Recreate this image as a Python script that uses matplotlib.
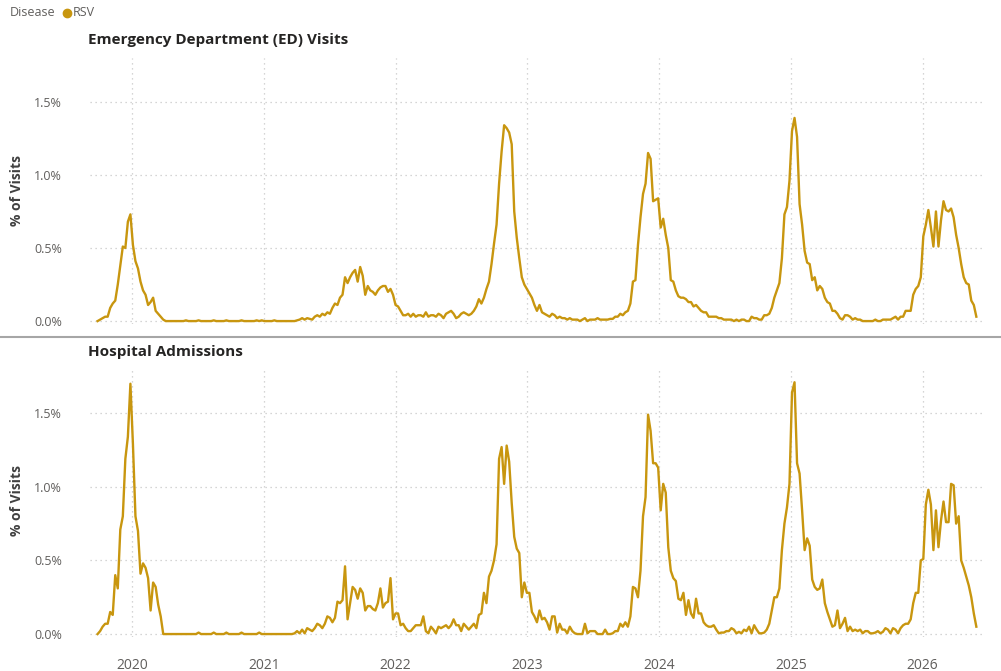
import numpy as np
import pandas as pd
import matplotlib
matplotlib.use("Agg")
import matplotlib.pyplot as plt
from matplotlib.lines import Line2D
from matplotlib.ticker import FuncFormatter

plt.rcParams['font.family'] = ['Open Sans', 'DejaVu Sans']

# weekly series, first week of the data
start_week = "2019-09-28"
series_name = "RSV"
legend_title = "Disease"
panel_titles = ["Emergency Department (ED) Visits", "Hospital Admissions"]
y_label = "% of Visits"
y_ticks = [0.0, 0.5, 1.0, 1.5]
year_ticks = [2020, 2021, 2022, 2023, 2024, 2025, 2026]

# ED visits, % of visits
ed_2019_20 = [0.00, 0.01, 0.02, 0.03, 0.03, 0.09, 0.12, 0.14, 0.25, 0.38,
              0.51, 0.50, 0.68, 0.73, 0.52, 0.41, 0.36, 0.27, 0.21, 0.18,
              0.11, 0.13, 0.16, 0.07, 0.05, 0.03, 0.01, 0.00]
ed_2020_off = [0, 0, 0, 0, 0, 0, 0, 0.005, 0, 0,
               0, 0, 0.005, 0, 0, 0, 0, 0, 0.005, 0,
               0, 0, 0, 0.005, 0, 0, 0, 0, 0, 0.005,
               0, 0, 0, 0, 0, 0.005, 0, 0.005, 0, 0,
               0, 0, 0.005, 0, 0, 0, 0, 0, 0, 0,
               0, 0.005]
ed_2021_22 = [0.01, 0.02, 0.01, 0.02, 0.015, 0.01, 0.03, 0.04, 0.03, 0.05,
              0.04, 0.06, 0.05, 0.09, 0.12, 0.11, 0.16, 0.18, 0.30, 0.26,
              0.30, 0.33, 0.35, 0.27, 0.37, 0.31, 0.18, 0.24, 0.21, 0.20,
              0.18, 0.21, 0.23, 0.24, 0.24, 0.20, 0.22, 0.18, 0.11, 0.10,
              0.07, 0.04, 0.04, 0.05, 0.03, 0.05, 0.03, 0.04, 0.04, 0.03,
              0.06, 0.03, 0.04, 0.04, 0.03, 0.05, 0.04, 0.02, 0.05]
ed_2022_23 = [0.06, 0.07, 0.05, 0.02, 0.03, 0.05, 0.06, 0.05, 0.04, 0.05,
              0.07, 0.10, 0.15, 0.12, 0.16, 0.22, 0.27, 0.39, 0.53, 0.66,
              0.94, 1.16, 1.34, 1.32, 1.29, 1.21, 0.75, 0.57, 0.43, 0.30,
              0.25, 0.22, 0.19, 0.16, 0.11, 0.07, 0.11, 0.06, 0.05, 0.04,
              0.03, 0.05, 0.04, 0.02, 0.03, 0.02, 0.02, 0.01, 0.02, 0.01,
              0.01, 0.01, 0.00, 0.01, 0.02, 0.00, 0.01, 0.01, 0.01, 0.02,
              0.01, 0.01, 0.01, 0.01, 0.015, 0.015, 0.03, 0.03, 0.05, 0.04,
              0.06]
ed_2023_25 = [0.07, 0.12, 0.27, 0.28, 0.52, 0.71, 0.87, 0.94, 1.15, 1.11,
              0.82, 0.83, 0.84, 0.64, 0.70, 0.59, 0.50, 0.28, 0.27, 0.21,
              0.17, 0.16, 0.16, 0.15, 0.13, 0.13, 0.10, 0.11, 0.09, 0.07,
              0.06, 0.06, 0.03, 0.03, 0.03, 0.03, 0.02, 0.02, 0.01, 0.01,
              0.01, 0.01, 0.00, 0.01, 0.00, 0.01, 0.01, 0.00, 0.00, 0.03,
              0.02, 0.02, 0.01, 0.01, 0.04, 0.04, 0.05, 0.09, 0.16, 0.21,
              0.26, 0.43, 0.73, 0.78, 0.96, 1.30, 1.39, 1.26, 0.80, 0.66,
              0.48]
ed_2025_26 = [0.40, 0.39, 0.28, 0.30, 0.21, 0.24, 0.22, 0.16, 0.13, 0.12,
              0.07, 0.07, 0.05, 0.02, 0.01, 0.04, 0.04, 0.03, 0.01, 0.02,
              0.01, 0.01, 0.00, 0.00, 0.00, 0.00, 0.00, 0.01, 0.00, 0.00,
              0.01, 0.01, 0.01, 0.01, 0.02, 0.03, 0.01, 0.03, 0.03, 0.07,
              0.07, 0.07, 0.18, 0.22, 0.24, 0.30, 0.58, 0.66, 0.76, 0.64,
              0.51, 0.75, 0.51, 0.69, 0.82, 0.76, 0.75, 0.77, 0.71, 0.59,
              0.50, 0.39, 0.30, 0.26, 0.25, 0.14, 0.11, 0.03]

# hospital admissions, % of visits
hosp_2019_20 = [0.00, 0.02, 0.05, 0.07, 0.07, 0.15, 0.13, 0.40, 0.31, 0.71,
                0.80, 1.19, 1.34, 1.70, 1.29, 0.80, 0.70, 0.41, 0.48, 0.45,
                0.38, 0.16, 0.35, 0.32, 0.20, 0.12, 0.00, 0.00]
hosp_2020_off = [0, 0, 0, 0, 0, 0, 0, 0, 0, 0,
                 0, 0, 0.01, 0, 0, 0, 0, 0, 0.01, 0,
                 0, 0, 0, 0.01, 0, 0, 0, 0, 0, 0.01,
                 0, 0, 0, 0, 0, 0, 0.01, 0, 0, 0,
                 0, 0, 0, 0, 0, 0, 0, 0, 0, 0]
hosp_2021_22 = [0.005, 0.02, 0.005, 0.03, 0.005, 0.04, 0.03, 0.02, 0.04, 0.07,
                0.06, 0.04, 0.07, 0.12, 0.11, 0.08, 0.11, 0.22, 0.21, 0.23,
                0.46, 0.10, 0.21, 0.32, 0.30, 0.24, 0.31, 0.28, 0.16, 0.19,
                0.19, 0.17, 0.16, 0.21, 0.31, 0.18, 0.21, 0.22, 0.38, 0.10,
                0.14, 0.14, 0.06, 0.07, 0.04, 0.02, 0.02, 0.04, 0.06, 0.06,
                0.06, 0.12, 0.02, 0.005, 0.05, 0.03, 0.005, 0.05, 0.04, 0.05,
                0.06]
hosp_2022_23 = [0.04, 0.06, 0.10, 0.06, 0.06, 0.02, 0.07, 0.05, 0.03, 0.05,
                0.07, 0.04, 0.13, 0.14, 0.28, 0.21, 0.39, 0.43, 0.50, 0.61,
                1.19, 1.27, 1.02, 1.28, 1.17, 0.89, 0.66, 0.58, 0.55, 0.25,
                0.35, 0.28, 0.28, 0.15, 0.12, 0.08, 0.16, 0.10, 0.11, 0.08,
                0.03, 0.12, 0.12, 0.01, 0.07, 0.03, 0.03, 0.005, 0.05, 0.02,
                0.005, 0.00, 0.00, 0.00, 0.07, 0.005, 0.02, 0.02, 0.02, 0.00,
                0.00, 0.00, 0.03, 0.00, 0.00, 0.005, 0.02, 0.02, 0.07, 0.05,
                0.08]
hosp_2023_25 = [0.05, 0.12, 0.32, 0.31, 0.25, 0.43, 0.80, 0.93, 1.49, 1.38,
                1.16, 1.16, 1.13, 0.84, 1.02, 0.96, 0.59, 0.43, 0.38, 0.36,
                0.24, 0.23, 0.28, 0.13, 0.23, 0.14, 0.11, 0.24, 0.14, 0.14,
                0.08, 0.06, 0.05, 0.05, 0.06, 0.03, 0.005, 0.01, 0.01, 0.02,
                0.02, 0.04, 0.03, 0.005, 0.015, 0.005, 0.03, 0.02, 0.05, 0.005,
                0.06, 0.03, 0.005, 0.005, 0.01, 0.03, 0.07, 0.16, 0.25, 0.25,
                0.31, 0.57, 0.75, 0.86, 1.02, 1.64, 1.71, 1.16, 1.09, 0.84,
                0.57]
hosp_2025_26 = [0.65, 0.60, 0.37, 0.32, 0.30, 0.31, 0.37, 0.21, 0.15, 0.10,
                0.05, 0.06, 0.16, 0.04, 0.07, 0.11, 0.02, 0.05, 0.02, 0.03,
                0.02, 0.03, 0.005, 0.02, 0.02, 0.005, 0.005, 0.01, 0.02, 0.005,
                0.015, 0.04, 0.03, 0.005, 0.04, 0.03, 0.005, 0.04, 0.06, 0.07,
                0.07, 0.10, 0.21, 0.28, 0.28, 0.50, 0.51, 0.88, 0.98, 0.88,
                0.57, 0.84, 0.59, 0.77, 0.90, 0.76, 0.76, 1.02, 1.01, 0.75,
                0.80, 0.50, 0.45, 0.39, 0.33, 0.25, 0.14, 0.05]

ed = ed_2019_20 + ed_2020_off + ed_2021_22 + ed_2022_23 + ed_2023_25 + ed_2025_26
hosp = (hosp_2019_20 + hosp_2020_off + hosp_2021_22 + hosp_2022_23
        + hosp_2023_25 + hosp_2025_26)
weeks = pd.date_range(start_week, periods=len(ed), freq="7D")

line_color = "#C8960F"
text_gray = "#605E5C"
title_color = "#252423"
grid_color = "#C8C8C8"

W, H = 1001, 671
fig = plt.figure(figsize=(W / 100, H / 100), dpi=100)


def px_box(left, top, right, bottom):
    return [left / W, 1 - bottom / H, (right - left) / W, (bottom - top) / H]


ax_top = fig.add_axes(px_box(90, 58, 985, 324))
ax_bot = fig.add_axes(px_box(90, 369, 985, 637))

x_left = pd.Timestamp("2019-09-07")
x_right = pd.Timestamp("2026-06-23")

for ax, vals, show_x in [(ax_top, ed, False), (ax_bot, hosp, True)]:
    ax.plot(weeks, vals, color=line_color, lw=1.7, solid_joinstyle="round", zorder=3)
    ax.set_xlim(x_left, x_right)
    ax.set_ylim(-0.02, 1.8)
    ax.set_yticks(y_ticks)
    ax.yaxis.set_major_formatter(FuncFormatter(lambda v, p: f"{v:.1f}%"))
    ax.set_xticks([pd.Timestamp(f"{y}-01-01") for y in year_ticks])
    if show_x:
        ax.set_xticklabels([str(y) for y in year_ticks])
    else:
        ax.set_xticklabels([])
    ax.tick_params(length=0, colors=text_gray)
    ax.tick_params(axis="x", labelsize=10, pad=15)
    ax.tick_params(axis="y", labelsize=9, pad=20)
    for s in ax.spines.values():
        s.set_visible(False)
    ax.grid(True, color=grid_color, lw=0.9, linestyle=(0, (1, 3)))
    ax.set_axisbelow(True)

# panel titles and axis labels
fig.text(88 / W, 1 - 40 / H, panel_titles[0], fontsize=11, fontweight="bold",
         color=title_color, va="center", ha="left")
fig.text(88 / W, 1 - 352 / H, panel_titles[1], fontsize=11, fontweight="bold",
         color=title_color, va="center", ha="left")
fig.text(17 / W, 1 - 190 / H, y_label, rotation=90, fontsize=10, fontweight="bold",
         color="#404040", va="center", ha="center")
fig.text(17 / W, 1 - 500 / H, y_label, rotation=90, fontsize=10, fontweight="bold",
         color="#404040", va="center", ha="center")

# legend
fig.text(10 / W, 1 - 13 / H, legend_title, fontsize=9, color=text_gray, va="center", ha="left")
fig.add_artist(Line2D([67 / W], [1 - 13 / H], marker="o", markersize=6, color=line_color,
                      transform=fig.transFigure))
fig.text(73 / W, 1 - 13 / H, series_name, fontsize=9, color=text_gray, va="center", ha="left")

# separator between the panels
fig.add_artist(Line2D([0, 1], [1 - 337 / H, 1 - 337 / H], color="#A6A6A6", lw=1.5,
                      transform=fig.transFigure))

fig.savefig("out.png", dpi=100)
